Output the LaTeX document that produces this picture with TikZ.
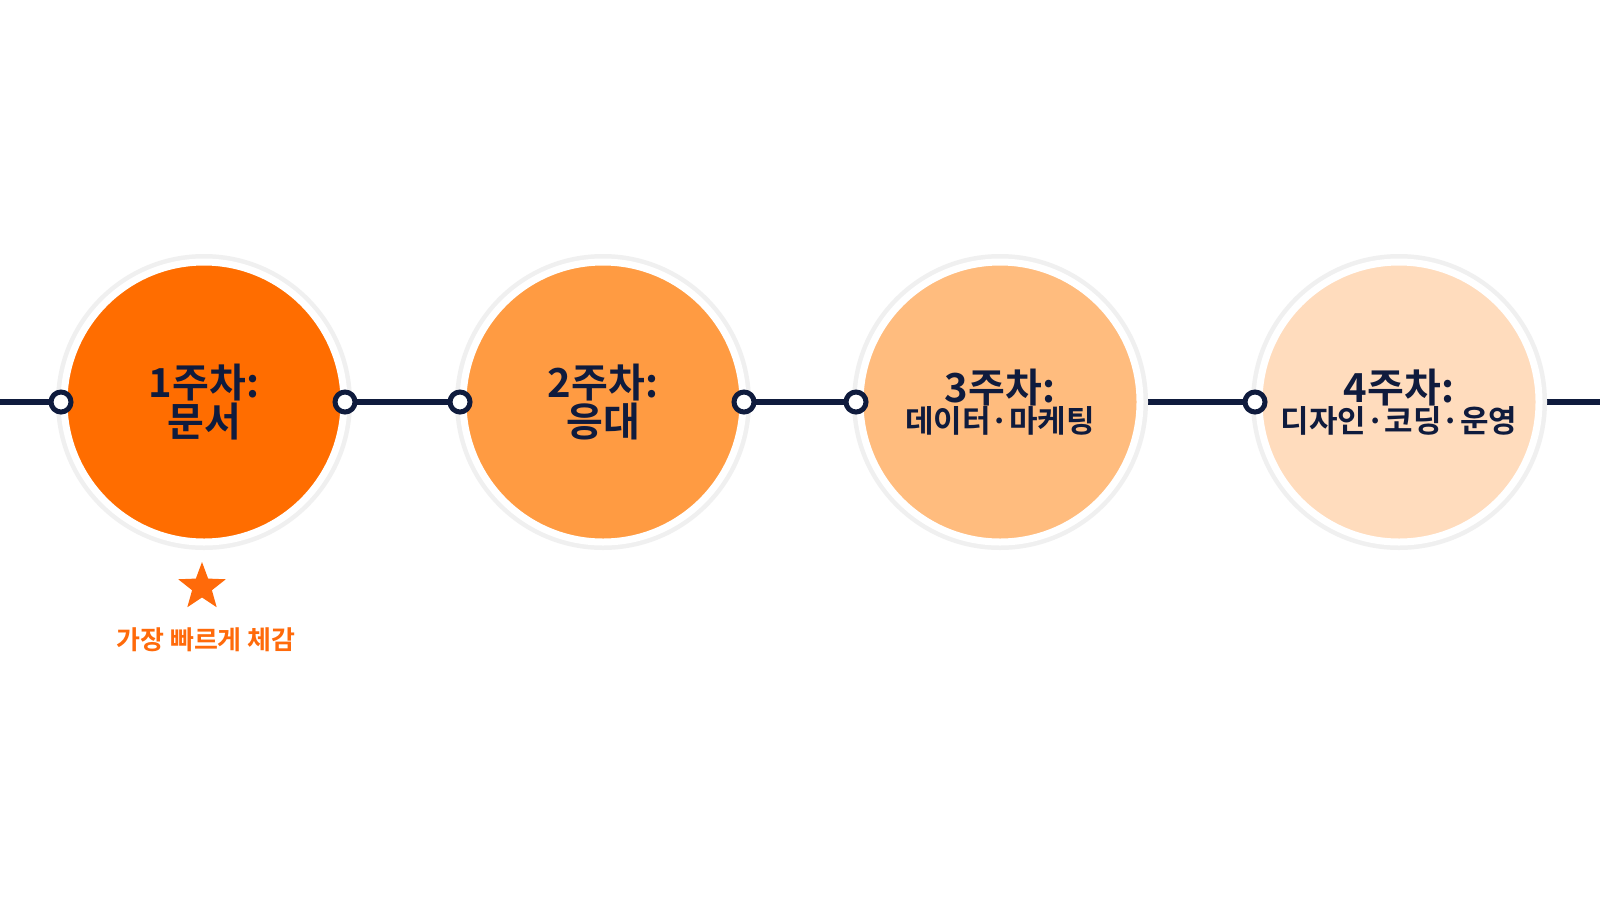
\documentclass[tikz,border=0pt]{standalone}
\usepackage{fontspec}
\newfontfamily\kr{Noto Sans CJK KR Bold}
\usetikzlibrary{shapes.geometric}
\definecolor{navy}{HTML}{0F1B3D}
\definecolor{cA}{HTML}{FF6D00}
\definecolor{cB}{HTML}{FF9B42}
\definecolor{cC}{HTML}{FFBC7E}
\definecolor{cD}{HTML}{FFDCBD}
\definecolor{acc}{HTML}{FF6A0A}
\begin{document}
\begin{tikzpicture}[x=1pt,y=-1pt,
  stage/.style={circle,minimum size=280pt,inner sep=0pt,draw=white,line width=7pt,align=center,text=navy,font=\kr},
  halo/.style={circle,minimum size=296pt,inner sep=0pt,fill=black!6},
  ring/.style={circle,minimum size=20pt,inner sep=0pt,draw=navy,line width=5pt,fill=white},
  ln/.style={draw=navy,line width=6pt}]
\fill[white] (0,0) rectangle (1600,900);
\useasboundingbox (0,0) rectangle (1600,900);
\coordinate (L) at (0,402);
\coordinate (R) at (1600,402);
\draw[ln] (L) -- (R);
\foreach \x/\n in {204/a,603/b,1000/c,1399/d}{\node[halo] (h\n) at (\x,402) {};}
\node[stage,fill=cA] (a) at (204,402) {\fontsize{40}{50}\selectfont 1주차:\\ \fontsize{40}{50}\selectfont 문서};
\node[stage,fill=cB] (b) at (603,402) {\fontsize{40}{50}\selectfont 2주차:\\ \fontsize{40}{50}\selectfont 응대};
\node[stage,fill=cC] (c) at (1000,402) {\fontsize{40}{50}\selectfont 3주차:\\ \fontsize{31}{50}\selectfont 데이터·마케팅};
\node[stage,fill=cD] (d) at (1399,402) {\fontsize{40}{50}\selectfont 4주차:\\ \fontsize{31}{50}\selectfont 디자인·코딩·운영};
\foreach \x/\n in {61/r1,345/r2,460/r3,744/r4,856/r5,1255/r6}{\node[ring] (\n) at (\x,402) {};}
\node[star,star points=5,star point ratio=2.4,fill=acc,minimum size=50pt,inner sep=0pt] (s) at (202,587) {};
\node[text=acc,font=\kr\fontsize{26}{30}\selectfont] (t) at (206,640) {가장 빠르게 체감};
\end{tikzpicture}
\end{document}
